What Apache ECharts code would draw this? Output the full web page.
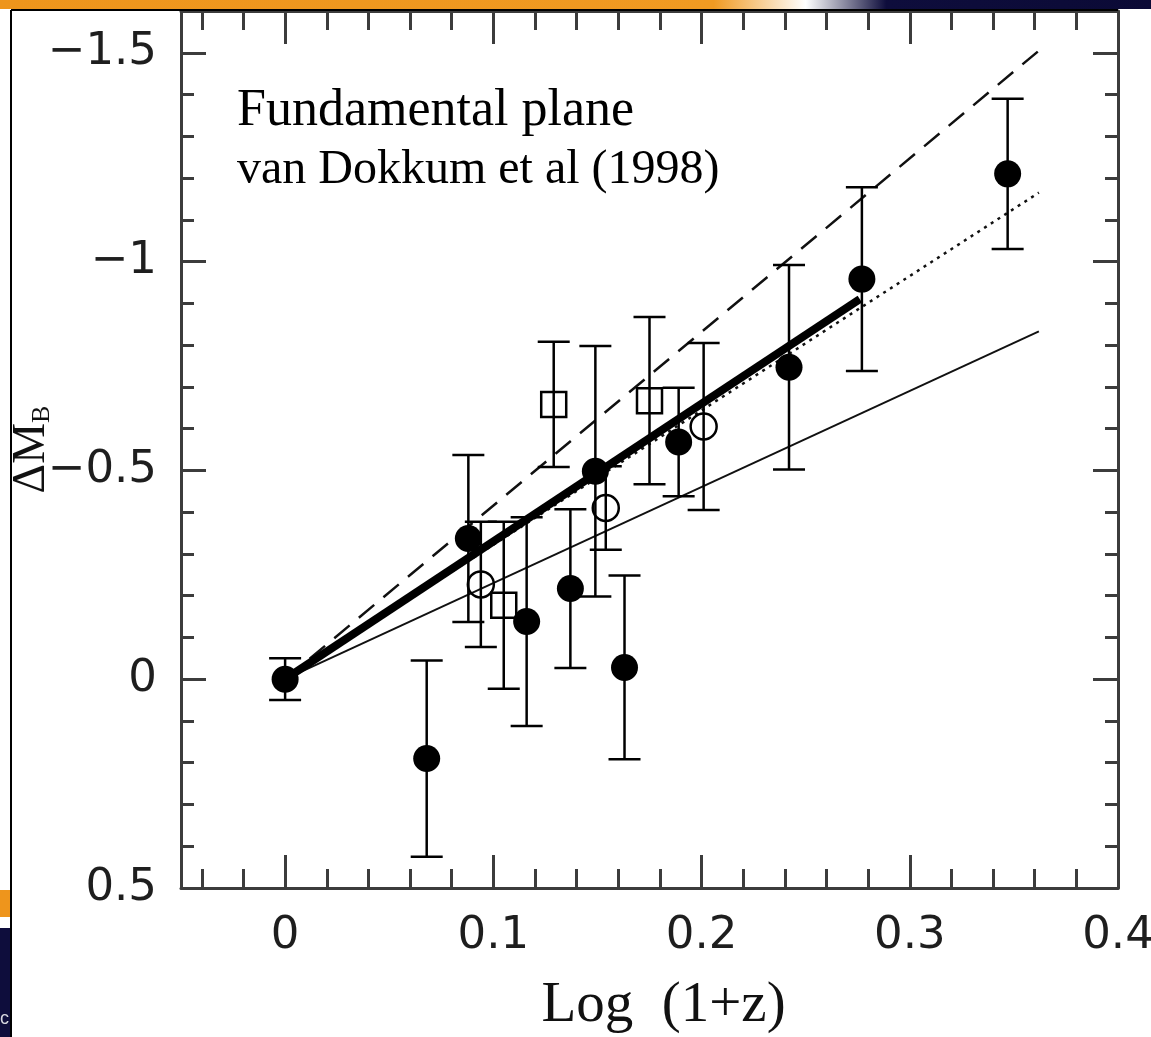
<!DOCTYPE html>
<html><head><meta charset="utf-8">
<script src="https://cdn.jsdelivr.net/npm/echarts@6/dist/echarts.min.js"></script>
<style>html,body{margin:0;padding:0;background:#fff}#c{width:1151px;height:1037px}</style>
</head><body><div id="c"></div>
<script>
// Tick values
const xMajorTicks = [0, 0.1, 0.2, 0.3, 0.4];
const xMinorTicks = [-0.04, -0.02, 0.02, 0.04, 0.06, 0.08, 0.12, 0.14, 0.16, 0.18, 0.22, 0.24, 0.26, 0.28, 0.32, 0.34, 0.36, 0.38];
const yMajorTicks = [-1.5, -1, -0.5, 0, 0.5];
const yMinorTicks = [-1.4, -1.3, -1.2, -1.1, -0.9, -0.8, -0.7, -0.6, -0.4, -0.3, -0.2, -0.1, 0.1, 0.2, 0.3, 0.4];

// Filled circles
const filledX   = [0, 0.068, 0.088, 0.116, 0.137, 0.149, 0.163, 0.189, 0.242, 0.277, 0.347];
const filledY   = [0, 0.19, -0.337, -0.138, -0.217, -0.498, -0.028, -0.568, -0.747, -0.958, -1.21];
const filledErr = [0.05, 0.235, 0.2, 0.25, 0.19, 0.3, 0.22, 0.13, 0.245, 0.22, 0.18];
// Open squares
const squareX   = [0.105, 0.129, 0.175];
const squareY   = [-0.177, -0.658, -0.667];
const squareErr = [0.2, 0.15, 0.2];
// Open circles
const openX   = [0.094, 0.154, 0.201];
const openY   = [-0.227, -0.41, -0.605];
const openErr = [0.15, 0.1, 0.2];

// Model lines
const modelX  = [0, 0.362];
const dashedY = [0, -1.505];
const dottedY = [0, -1.165];
const solidY  = [0, -0.833];
// Thick fit line
const fitX = [0, 0.276];
const fitY = [0, -0.91];

function pts(xs, ys) { return xs.map((x, i) => [x, ys[i]]); }
function errs(xs, ys, es) { return xs.map((x, i) => [x, ys[i] - es[i], ys[i] + es[i]]); }

const axisColor = '#3c3c3c';
const labelFont = 'DejaVu Sans';

function errRender(params, api) {
  const x = api.value(0), lo = api.value(1), hi = api.value(2);
  const p1 = api.coord([x, lo]), p2 = api.coord([x, hi]);
  const w = 16;
  const style = { stroke: '#000', lineWidth: 2.5, fill: null };
  return { type: 'group', children: [
    { type: 'line', shape: { x1: p1[0], y1: p1[1], x2: p2[0], y2: p2[1] }, style: style },
    { type: 'line', shape: { x1: p1[0] - w, y1: p1[1], x2: p1[0] + w, y2: p1[1] }, style: style },
    { type: 'line', shape: { x1: p2[0] - w, y1: p2[1], x2: p2[0] + w, y2: p2[1] }, style: style }
  ]};
}

function fmt(v) {
  if (Math.abs(v) < 1e-9) return '0';
  return v < 0 ? '\u2212' + String(Math.abs(v)) : String(v);
}

function xAx(pos, ticks, len, line, label) {
  return {
    type: 'value', position: pos, min: -0.05, max: 0.4,
    splitLine: { show: false },
    axisLine: { show: line, onZero: false, lineStyle: { color: axisColor, width: 3 } },
    axisTick: { show: true, inside: true, length: len, customValues: ticks, lineStyle: { color: axisColor, width: 3 } },
    axisLabel: label ? { show: true, customValues: xMajorTicks, formatter: fmt, margin: 26,
      fontFamily: labelFont, fontSize: 45, color: '#1e1e1e' } : { show: false }
  };
}
function yAx(pos, ticks, len, line, label) {
  return {
    type: 'value', position: pos, min: -1.6, max: 0.5, inverse: true,
    splitLine: { show: false },
    axisLine: { show: line, onZero: false, lineStyle: { color: axisColor, width: 3 } },
    axisTick: { show: true, inside: true, length: len, customValues: ticks, lineStyle: { color: axisColor, width: 3 } },
    axisLabel: label ? { show: true, customValues: yMajorTicks, formatter: fmt, margin: 24,
      fontFamily: labelFont, fontSize: 45, color: '#1e1e1e' } : { show: false }
  };
}

const xAxes = [xAx('bottom', xMajorTicks, 33, true, true), xAx('top', xMajorTicks, 33, true, false),
               xAx('bottom', xMinorTicks, 19, false, false), xAx('top', xMinorTicks, 19, false, false)];
xAxes[0].name = 'Log  (1+z)';
xAxes[0].nameLocation = 'middle';
xAxes[0].nameGap = 90;
xAxes[0].nameMoveOverlap = false;
xAxes[0].nameTextStyle = { fontFamily: 'Liberation Serif', fontSize: 57, color: '#111', padding: [0, 0, 0, 28] };

const yAxes = [yAx('left', yMajorTicks, 25, true, true), yAx('right', yMajorTicks, 25, true, false),
               yAx('left', yMinorTicks, 13, false, false), yAx('right', yMinorTicks, 13, false, false)];
yAxes[0].name = '{a|\u0394M}{b|B}';
yAxes[0].nameLocation = 'middle';
yAxes[0].nameGap = 126;
yAxes[0].nameMoveOverlap = false;
yAxes[0].nameTextStyle = { color: '#111', rich: {
  a: { fontFamily: 'Liberation Serif', fontSize: 46, lineHeight: 46, color: '#111' },
  b: { fontFamily: 'Liberation Serif', fontSize: 26, lineHeight: 14, verticalAlign: 'bottom', color: '#111' }
}};

const chart = echarts.init(document.getElementById('c'), null, { renderer: 'canvas' });
chart.setOption({
  backgroundColor: '#fff',
  animation: false,
  grid: { left: 181, right: 33, top: 11, bottom: 149, containLabel: false, outerBoundsMode: 'none' },
  xAxis: xAxes,
  yAxis: yAxes,
  graphic: [
    { type: 'rect', shape: { x: 0, y: 0, width: 1151, height: 9 }, z: 100,
      style: { fill: new echarts.graphic.LinearGradient(0, 0, 1, 0, [
        { offset: 0, color: '#ee951c' }, { offset: 0.62, color: '#f09a22' },
        { offset: 0.70, color: '#ffffff' }, { offset: 0.77, color: '#0e0d3c' }, { offset: 1, color: '#0b0a36' }]) } },
    { type: 'line', shape: { x1: 11, y1: 10, x2: 1118, y2: 10 }, style: { stroke: '#000', lineWidth: 2 }, z: 100 },
    { type: 'line', shape: { x1: 11, y1: 10, x2: 11, y2: 1037 }, style: { stroke: '#000', lineWidth: 2 }, z: 100 },
    { type: 'rect', shape: { x: 0, y: 890, width: 10, height: 27 }, style: { fill: '#ee951c' }, z: 100 },
    { type: 'rect', shape: { x: 0, y: 928, width: 10, height: 109 }, style: { fill: '#0e0d3c' }, z: 100 },
    { type: 'text', x: -4, y: 1010, z: 101, style: { text: 'ic', font: '18px "Liberation Sans"', fill: '#d8d8e0' } },
    { type: 'text', x: 237, y: 111, z: 50, style: { text: 'Fundamental plane', font: '52px "Liberation Serif"', fill: '#000', verticalAlign: 'middle' } },
    { type: 'text', x: 237, y: 170, z: 50, style: { text: 'van Dokkum et al (1998)', font: '48px "Liberation Serif"', fill: '#000', verticalAlign: 'middle' } }
  ],
  series: [
    { type: 'line', data: pts(modelX, dashedY), symbol: 'none', z: 2, silent: true,
      lineStyle: { color: '#111', width: 2.5, type: [20, 12] } },
    { type: 'line', data: pts(modelX, dottedY), symbol: 'none', z: 2, silent: true,
      lineStyle: { color: '#111', width: 2.5, type: [3, 5] } },
    { type: 'line', data: pts(modelX, solidY), symbol: 'none', z: 2, silent: true,
      lineStyle: { color: '#111', width: 2 } },
    { type: 'custom', renderItem: errRender, data: errs(filledX, filledY, filledErr), encode: { x: 0, y: [1, 2] }, z: 3, silent: true },
    { type: 'custom', renderItem: errRender, data: errs(squareX, squareY, squareErr), encode: { x: 0, y: [1, 2] }, z: 3, silent: true },
    { type: 'custom', renderItem: errRender, data: errs(openX, openY, openErr), encode: { x: 0, y: [1, 2] }, z: 3, silent: true },
    { type: 'scatter', data: pts(filledX, filledY), symbol: 'circle', symbolSize: 27, z: 4, silent: true,
      itemStyle: { color: '#000', opacity: 1 } },
    { type: 'scatter', data: pts(squareX, squareY), symbol: 'rect', symbolSize: 25, z: 4, silent: true,
      itemStyle: { color: 'rgba(0,0,0,0)', borderColor: '#000', borderWidth: 2.5, opacity: 1 } },
    { type: 'scatter', data: pts(openX, openY), symbol: 'circle', symbolSize: 26, z: 4, silent: true,
      itemStyle: { color: 'rgba(0,0,0,0)', borderColor: '#000', borderWidth: 2.5, opacity: 1 } },
    { type: 'line', data: pts(fitX, fitY), symbol: 'none', z: 6, silent: true,
      lineStyle: { color: '#000', width: 8 } }
  ]
});
</script>
</body></html>
